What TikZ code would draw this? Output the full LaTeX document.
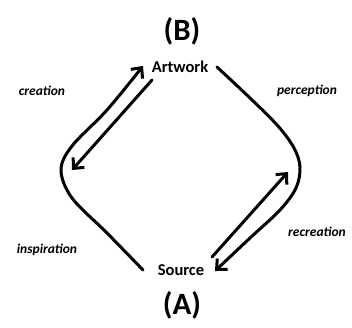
\documentclass[tikz,border=0pt]{standalone}
\usepackage{fontspec}
\setmainfont{Carlito}
\usetikzlibrary{arrows.meta}
\begin{document}
\begin{tikzpicture}[x=1pt,y=-1pt,
  stroke/.style={line width=3pt, line cap=round, line join=round},
  head/.style={-{Straight Barb[length=8pt,width=15pt,line width=3pt]}},
  lbl/.style={font=\fontsize{13.5}{16}\selectfont\bfseries\itshape, inner sep=0pt},
  term/.style={font=\fontsize{16.5}{18}\selectfont\bfseries, inner sep=0pt},
  big/.style={font=\fontsize{31}{34}\selectfont\bfseries, inner sep=0pt}]
\useasboundingbox (0,0) rectangle (352,327);
\node[big] (B) at (182,31) {(B)};
\node[big] (A) at (182,305) {(A)};
\node[term] (art) at (180,67) {Artwork};
\node[term] (src) at (181,270) {Source};
\node[lbl] (cre) at (42,91) {creation};
\node[lbl] (per) at (307,91) {perception};
\node[lbl] (ins) at (47,250) {inspiration};
\node[lbl] (rec) at (317,232) {recreation};
\coordinate (l1) at (143,270);
\coordinate (l2) at (143,66);
\coordinate (li1) at (152,80);
\coordinate (li2) at (72,170);
\coordinate (r1) at (217,67);
\coordinate (r2) at (215,271);
\coordinate (ri1) at (212,257);
\coordinate (ri2) at (288,172);
\draw[stroke,head] plot[smooth,tension=0.55] coordinates {(l1) (107,233) (72,198) (61,170) (72,146) (107,110) (l2)};
\draw[stroke,head] (li1) -- (li2);
\draw[stroke,head] plot[smooth,tension=0.55] coordinates {(r1) (250,98) (278,126) (294,148) (300,167) (296,188) (280,210) (250,238) (r2)};
\draw[stroke,head] (ri1) -- (ri2);
\end{tikzpicture}
\end{document}
